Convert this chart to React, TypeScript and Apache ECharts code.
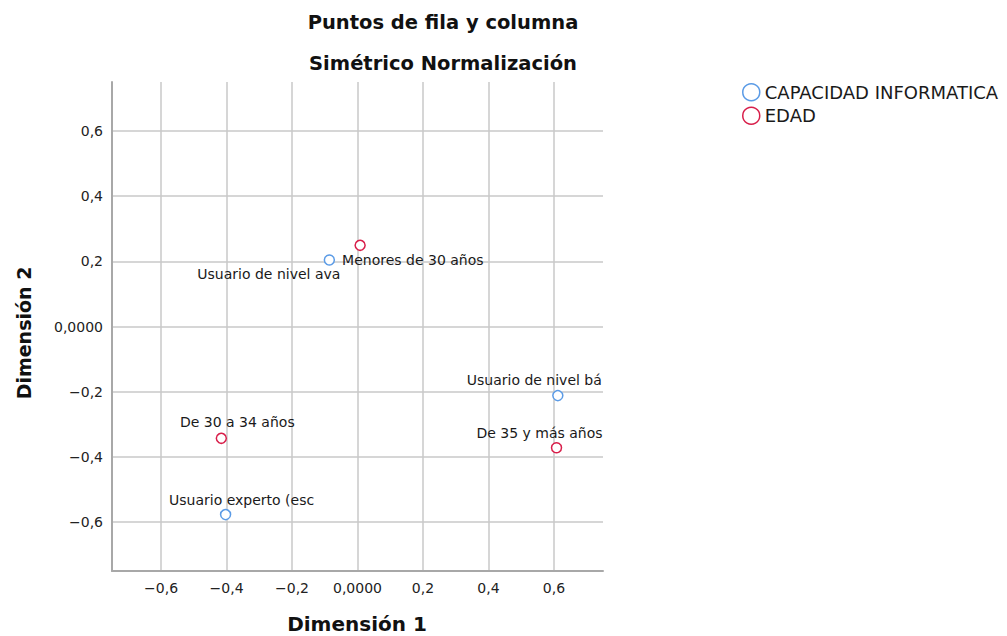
import React, { useEffect, useRef } from "react";
import * as echarts from "echarts";

const capacidadNames = ["Usuario de nivel ava", "Usuario de nivel bá", "Usuario experto (esc"];
const capacidadX = [-0.086, 0.612, -0.403];
const capacidadY = [0.204, -0.212, -0.577];

const edadNames = ["Menores de 30 años", "De 35 y más años", "De 30 a 34 años"];
const edadX = [0.008, 0.608, -0.416];
const edadY = [0.249, -0.372, -0.343];

const legendNames = ["CAPACIDAD INFORMATICA", "EDAD"];
const titleLines = ["Puntos de fila y columna", "Simétrico Normalización"];
const axisNames = ["Dimensión 1", "Dimensión 2"];

const BLUE = "#5b9be6";
const RED = "#d81e4a";
const FONT = "'DejaVu Sans', sans-serif";

// label placement per point (align, offset)
const capLabelCfg = [
  { align: "right", offset: [11, 14] },
  { align: "right", offset: [44, -16] },
  { align: "center", offset: [16, -15] },
];
const edadLabelCfg = [
  { align: "left", offset: [-18, 15] },
  { align: "right", offset: [46, -15] },
  { align: "center", offset: [16, -16] },
];

function fmt(v: number): string {
  if (Math.abs(v) > 0.7) return "";
  if (Math.abs(v) < 1e-9) return "0,0000";
  const s = Math.abs(v).toFixed(1).replace(".", ",");
  return (v < 0 ? "\u2212" : "") + s;
}

function buildData(names: string[], xs: number[], ys: number[], cfg: any[]) {
  return names.map((n, i) => ({
    name: n,
    value: [xs[i], ys[i]],
    label: {
      show: true,
      formatter: n,
      position: "inside",
      align: cfg[i].align,
      verticalAlign: "middle",
      offset: cfg[i].offset,
      color: "#1a1a1a",
      fontSize: 14,
      fontFamily: FONT,
    },
  }));
}

export default function App() {
  const ref = useRef<HTMLDivElement>(null);
  useEffect(() => {
    document.body.style.margin = "0";
    const chart = echarts.init(ref.current!, null, { renderer: "svg" });
    const axisCommon = {
      type: "value",
      min: -0.75,
      max: 0.75,
      splitNumber: 7,
      axisLine: { show: true, onZero: false, lineStyle: { color: "#a8a8a8", width: 2 } },
      axisTick: { show: false },
      splitLine: { show: true, showMinLine: false, showMaxLine: false, lineStyle: { color: "#c8c8c8", width: 1.5 } },
      axisLabel: {
        showMinLabel: false,
        showMaxLabel: false,
        formatter: (v: number) => fmt(v),
        color: "#222",
        fontSize: 14,
        fontFamily: FONT,
      },
    };
    chart.setOption({
      animation: false,
      backgroundColor: "#ffffff",
      grid: { left: 112, top: 82, width: 491, height: 489, containLabel: false },
      xAxis: { ...axisCommon, axisLabel: { ...axisCommon.axisLabel, margin: 10 } },
      yAxis: { ...axisCommon, axisLabel: { ...axisCommon.axisLabel, margin: 9 } },
      legend: {
        orient: "vertical",
        left: 742,
        top: 83,
        padding: 0,
        itemWidth: 17,
        itemHeight: 17,
        itemGap: 5,
        textStyle: { fontSize: 18, color: "#1a1a1a", fontFamily: FONT },
        data: [
          { name: legendNames[0], icon: "circle", itemStyle: { color: "#fff", borderColor: BLUE, borderWidth: 1.5 } },
          { name: legendNames[1], icon: "circle", itemStyle: { color: "#fff", borderColor: RED, borderWidth: 1.5 } },
        ],
      },
      graphic: [
        {
          type: "text",
          x: 443,
          y: 22,
          style: { text: titleLines[0], fontSize: 19.5, fontWeight: "bold", fontFamily: FONT, fill: "#111", textAlign: "center", textVerticalAlign: "middle" },
        },
        {
          type: "text",
          x: 443,
          y: 63,
          style: { text: titleLines[1], fontSize: 19.5, fontWeight: "bold", fontFamily: FONT, fill: "#111", textAlign: "center", textVerticalAlign: "middle" },
        },
        {
          type: "text",
          x: 357,
          y: 624,
          style: { text: axisNames[0], fontSize: 20, fontWeight: "bold", fontFamily: FONT, fill: "#111", textAlign: "center", textVerticalAlign: "middle" },
        },
        {
          type: "text",
          x: 24,
          y: 333,
          rotation: Math.PI / 2,
          style: { text: axisNames[1], fontSize: 19, fontWeight: "bold", fontFamily: FONT, fill: "#111", textAlign: "center", textVerticalAlign: "middle" },
        },
      ],
      series: [
        {
          name: legendNames[0],
          type: "scatter",
          symbol: "circle",
          symbolSize: 10,
          itemStyle: { color: "#fff", borderColor: BLUE, borderWidth: 1.5, opacity: 1 },
          data: buildData(capacidadNames, capacidadX, capacidadY, capLabelCfg),
          z: 3,
        },
        {
          name: legendNames[1],
          type: "scatter",
          symbol: "circle",
          symbolSize: 10,
          itemStyle: { color: "#fff", borderColor: RED, borderWidth: 1.5, opacity: 1 },
          data: buildData(edadNames, edadX, edadY, edadLabelCfg),
          z: 3,
        },
      ],
    });
    return () => chart.dispose();
  }, []);
  return <div ref={ref} style={{ width: 1007, height: 636 }} />;
}
